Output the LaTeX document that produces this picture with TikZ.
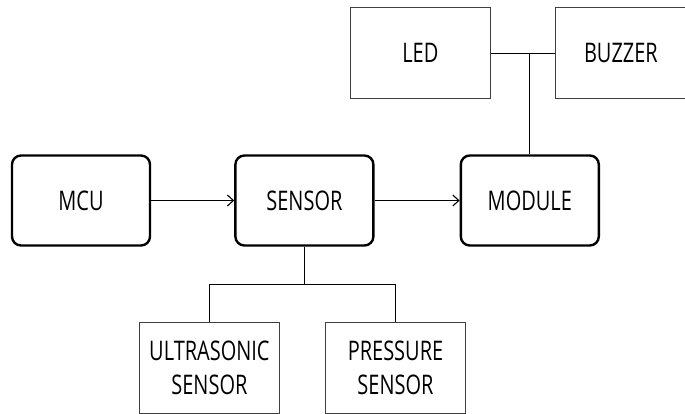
\documentclass[tikz,border=0pt]{standalone}
\usepackage{fontspec}
\setmainfont[FakeStretch=0.74]{Open Sans}
\usepackage{tikz}
\usetikzlibrary{positioning, calc, arrows.meta}

\begin{document}
\begin{tikzpicture}[x=1pt, y=1pt,
    mainbox/.style={rectangle, draw=black, line width=2.4pt, rounded corners=9pt, minimum width=138pt, minimum height=90pt, font=\fontsize{27}{34}\selectfont},
    partbox/.style={rectangle, draw=black!75, line width=1.1pt, minimum width=140pt, minimum height=91pt, align=center, font=\fontsize{27}{34}\selectfont},
    line/.style={draw, -{Straight Barb[length=6pt, width=11pt]}, line width=1.1pt},
    link/.style={draw, line width=1.1pt}]

    \useasboundingbox (0,0) rectangle (685,-413);

    \node [mainbox] (mcu) at (81,-200.5) {MCU};
    \node [mainbox, right=83pt of mcu] (sensor) {SENSOR};
    \node [mainbox, right=85pt of sensor] (module) {MODULE};
    \node [partbox, above=55pt of module, xshift=-109.5pt] (led) {LED};
    \node [partbox, right=64pt of led, minimum width=131pt] (buzzer) {BUZZER};
    \node [partbox, below=75pt of sensor, xshift=-95pt] (ultra) {ULTRASONIC\\SENSOR};
    \node [partbox, right=45pt of ultra] (pressure) {PRESSURE\\SENSOR};

    \coordinate (split) at ($(sensor.south)!0.5!(sensor.south |- ultra.north)$);

    \path [line] (mcu) -- (sensor);
    \path [line] (sensor) -- (module);
    \path [link] (led) -- (buzzer);
    \path [link] (module.north) -- (module.north |- led.east);
    \path [link] (sensor.south) -- (split);
    \path [link] (ultra.north) |- (split) -| (pressure.north);
\end{tikzpicture}
\end{document}
